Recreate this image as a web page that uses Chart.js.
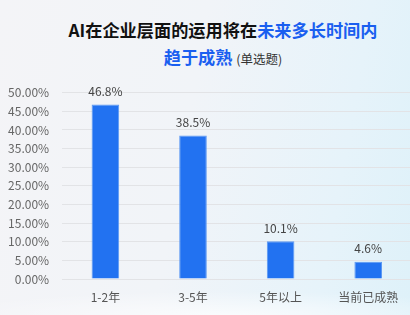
<!DOCTYPE html>
<html>
<head>
<meta charset="utf-8">
<script src="https://cdn.jsdelivr.net/npm/chart.js@4"></script>
<style>
html,body{margin:0;padding:0;width:410px;height:315px;overflow:hidden;}
body{background:linear-gradient(100deg,#f4f4f7 0%,#f1f4f8 45%,#e6f3fa 80%,#def1f9 100%);position:relative;font-family:"Noto Sans CJK SC",sans-serif;}
.wave{position:absolute;left:0;right:0;bottom:0;height:60px;background:radial-gradient(ellipse 70% 40% at 55% 100%,rgba(255,255,255,0.7),rgba(255,255,255,0));}
.t{position:absolute;left:0;width:446px;text-align:center;font-weight:bold;font-size:17.2px;color:#111;white-space:nowrap;}
.b{color:#1a5ff0;}
.s{font-weight:normal;font-size:12.5px;color:#333;}
#wrap{position:absolute;left:0;top:0;width:412px;height:315px;}
</style>
</head>
<body>
<div class="wave"></div>
<div class="t" style="top:18px;line-height:24px;">AI在企业层面的运用将在<span class="b">未来多长时间内</span></div>
<div class="t" style="top:45px;line-height:24px;"><span class="b">趋于成熟</span> <span class="s">(单选题)</span></div>
<div id="wrap"><canvas id="c"></canvas></div>
<script>
const categories = ["1-2年", "3-5年", "5年以上", "当前已成熟"];
const values = [46.8, 38.5, 10.1, 4.6];
const valueLabels = ["46.8%", "38.5%", "10.1%", "4.6%"];

const labelPlugin = {
  id: 'valLabels',
  afterDatasetsDraw(chart) {
    const ctx = chart.ctx;
    const meta = chart.getDatasetMeta(0);
    ctx.save();
    ctx.font = '12px "Noto Sans CJK SC", sans-serif';
    ctx.fillStyle = '#444';
    ctx.textAlign = 'center';
    ctx.textBaseline = 'middle';
    meta.data.forEach((bar, i) => {
      ctx.fillText(valueLabels[i], bar.x, bar.y - 13);
    });
    ctx.restore();
  }
};

new Chart(document.getElementById('c'), {
  type: 'bar',
  data: {
    labels: categories,
    datasets: [{
      data: values,
      backgroundColor: '#2272f1',
      borderColor: '#5b98f3',
      borderWidth: 1,
      categoryPercentage: 1,
      barPercentage: 0.315
    }]
  },
  plugins: [labelPlugin],
  options: {
    responsive: true,
    maintainAspectRatio: false,
    animation: false,
    layout: { padding: { top: 92.7, right: 0, bottom: 0, left: 0 } },
    plugins: { legend: { display: false }, tooltip: { enabled: false } },
    scales: {
      x: {
        grid: { display: false, drawTicks: false },
        border: { display: false },
        ticks: { color: '#555', font: { size: 12, family: '"Noto Sans CJK SC", sans-serif' }, padding: 11, maxRotation: 0 },
        afterFit(s) { s.height = 36; }
      },
      y: {
        min: 0, max: 50,
        grid: { color: '#e2e3e6', drawTicks: false },
        border: { display: false },
        ticks: {
          stepSize: 5,
          color: '#666',
          padding: 12.5,
          font: { size: 12, family: '"Noto Sans CJK SC", sans-serif' },
          callback: v => v.toFixed(2) + '%'
        },
        afterFit(s) { s.width = 61.6; }
      }
    }
  }
});
</script>
</body>
</html>
